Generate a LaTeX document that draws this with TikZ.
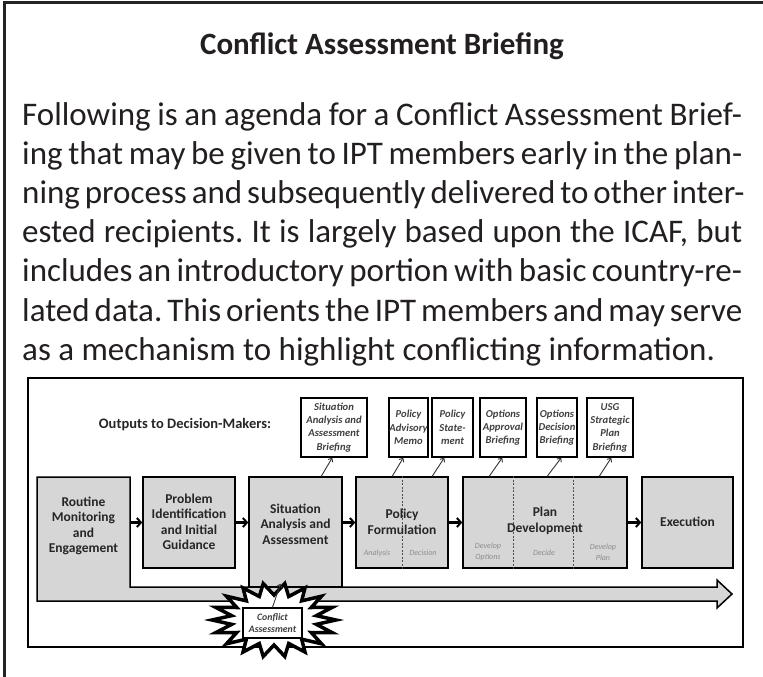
\documentclass[tikz,border=0pt]{standalone}
\usepackage{fontspec}
\setmainfont{Carlito}
\usetikzlibrary{arrows.meta,calc}
\definecolor{boxgray}{RGB}{214,214,214}
\definecolor{framegray}{RGB}{35,35,35}
\definecolor{subgray}{RGB}{140,140,140}
\definecolor{inkc}{RGB}{35,31,32}
\frenchspacing
\begin{document}
\begin{tikzpicture}[x=1pt,y=-1pt,
  bodyline/.style={anchor=base west, inner sep=0pt, text=inkc, font=\fontsize{33}{39}\selectfont},
  mainbox/.style={draw=black, line width=1.5pt, fill=boxgray, inner sep=0pt},
  boxtext/.style={font=\fontsize{13.5}{15.5}\selectfont\bfseries, align=center, text=black!85, inner sep=0pt},
  outbox/.style={draw=black, line width=1.5pt, fill=white, inner sep=0pt, minimum height=59pt, align=center, font=\fontsize{10.6}{13.3}\selectfont\bfseries\itshape, text=black!75},
  subtext/.style={font=\fontsize{8}{11}\selectfont\itshape, text=subgray, align=center, inner sep=0pt},
  mainarrow/.style={line width=2.2pt, -{Straight Barb[length=4pt,width=9pt,line width=2pt]}},
  thinarrow/.style={line width=0.9pt, black!80, -{Straight Barb[length=3pt,width=5.5pt]}},
  divider/.style={dashed, line width=1pt, black!70, dash pattern=on 2pt off 1.5pt}
]
\useasboundingbox (0,0) rectangle (763,677);
% outer frame
\draw[line width=3pt, framegray] (4,677) -- (4,3) -- (763,3);

% title and body text
\node[font=\fontsize{31}{36}\selectfont\bfseries, anchor=base, text=inkc, inner sep=0pt] (title) at (382,55) {Conflict Assessment Briefing};
\node[bodyline] (l1) at (22,125.5) {\makebox[720pt][s]{Following is an agenda for a Conflict Assessment Brief-}};
\node[bodyline] (l2) at (22,164.6) {\makebox[720pt][s]{ing that may be given to IPT members early in the plan-}};
\node[bodyline] (l3) at (22,203.7) {\makebox[720pt][s]{ning process and subsequently delivered to other inter-}};
\node[bodyline] (l4) at (22,242.8) {\makebox[720pt][s]{ested recipients. It is largely based upon the ICAF, but}};
\node[bodyline] (l5) at (22,281.9) {\makebox[720pt][s]{includes an introductory portion with basic country-re-}};
\node[bodyline] (l6) at (22,321.0) {\makebox[720pt][s]{lated data. This orients the IPT members and may serve}};
\node[bodyline] (l7) at (22,360.1) {as a mechanism to highlight conflicting information.};

% inner figure frame
\node[draw=black, line width=1.5pt, fill=white, minimum width=715pt, minimum height=269pt, inner sep=0pt] (fig) at (385.5,512.5) {};

\node[font=\fontsize{14.5}{17}\selectfont\bfseries, text=black!85, inner sep=0pt] (out) at (185,425) {Outputs to Decision-Makers:};

% big timeline arrow merged with routine box
\draw[line width=1.5pt, fill=boxgray, line join=miter]
  (37,477) -- (130,477) -- (130,587) -- (717,587) -- (717,580) -- (732,594)
  -- (717,608) -- (717,601) -- (37,601) -- cycle;
\node[inner sep=0pt, minimum width=93pt, minimum height=124pt] (rme) at (83.5,539) {};
\node[boxtext] (rmeT) at (83.5,526) {Routine\\Monitoring\\and\\Engagement};

% main boxes
\node[mainbox, minimum width=92pt, minimum height=91pt] (pid) at (189,522.5) {};
\node[boxtext] (pidT) at (189,522) {Problem\\Identification\\and Initial\\Guidance};
\node[mainbox, minimum width=93pt, minimum height=110pt] (saa) at (295.5,532) {};
\node[boxtext] (saaT) at (295.5,524) {Situation\\Analysis and\\Assessment};
\node[mainbox, minimum width=92pt, minimum height=91pt] (pf) at (402,522.5) {};
\node[mainbox, minimum width=164pt, minimum height=91pt] (pd) at (545,522.5) {};
\node[mainbox, minimum width=91pt, minimum height=91pt] (ex) at (687.5,522.5) {};

% dividers
\draw[divider] (pf.north) -- (pf.south);
\draw[divider] ([xshift=51pt]pd.north west) -- ([xshift=51pt]pd.south west);
\draw[divider] ([xshift=111pt]pd.north west) -- ([xshift=111pt]pd.south west);

\node[boxtext] (pfT) at (402,522) {Policy\\Formulation};
\node[boxtext] (pdT) at (545,521) {Plan\\Development};
\node[boxtext] (exT) at (687.5,522) {Execution};

% sub labels
\node[subtext] (sa1) at (377,553) {Analysis};
\node[subtext] (sa2) at (423,553) {Decision};
\node[subtext] (sp1) at (488,552) {Develop\\Options};
\node[subtext] (sp2) at (544,553) {Decide};
\node[subtext] (sp3) at (603,552) {Develop\\Plan};

% arrows between main boxes
\draw[mainarrow] (rme.east |- pid.west) -- (pid.west);
\draw[mainarrow] (pid.east) -- (saa.west |- pid.east);
\draw[mainarrow] (saa.east |- pf.west) -- (pf.west);
\draw[mainarrow] (pf.east) -- (pd.west);
\draw[mainarrow] (pd.east) -- (ex.west);

% output boxes
\node[outbox, minimum width=66pt] (b1) at (334,427.5) {Situation\\Analysis and\\Assessment\\Briefing};
\node[outbox, minimum width=39pt] (b2) at (408.5,427.5) {Policy\\Advisory\\Memo};
\node[outbox, minimum width=41pt] (b3) at (452.5,427.5) {Policy\\State-\\ment};
\node[outbox, minimum width=46pt] (b4) at (503,427.5) {Options\\Approval\\Briefing};
\node[outbox, minimum width=40pt] (b5) at (557,427.5) {Options\\Decision\\Briefing};
\node[outbox, minimum width=46pt] (b6) at (610,427.5) {USG\\Strategic\\Plan\\Briefing};

\draw[thinarrow] ([xshift=73pt]saa.north west) -- ([xshift=32pt]b1.south west);
\draw[thinarrow] ([xshift=37pt]pf.north west) -- ([xshift=15pt]b2.south west);
\draw[thinarrow] ([xshift=77pt]pf.north west) -- ([xshift=13pt]b3.south west);
\draw[thinarrow] ([xshift=27pt]pd.north west) -- ([xshift=23pt]b4.south west);
\draw[thinarrow] ([xshift=85pt]pd.north west) -- ([xshift=25pt]b5.south west);
\draw[thinarrow] ([xshift=137pt]pd.north west) -- ([xshift=25pt]b6.south west);

% starburst
\begin{scope}[shift={(274,620)}]
\draw[line width=3.5pt, fill=white, line join=miter, miter limit=20]
  (0:62 and 37) \foreach \k in {0,...,17} { -- ({10*(2*\k+1)}:43 and 25) -- ({20*(\k+1)}:62 and 37) } -- cycle;
\end{scope}
\node[draw=black, line width=1.3pt, fill=white, minimum width=59pt, minimum height=30pt, inner sep=0pt, align=center, font=\fontsize{9.8}{12.5}\selectfont\bfseries\itshape, text=black!75] (ca) at (272.5,623) {Conflict\\Assessment};
\draw[thinarrow] (ca.north) -- ([xshift=-15pt,yshift=4pt]saa.south);
\end{tikzpicture}
\end{document}
